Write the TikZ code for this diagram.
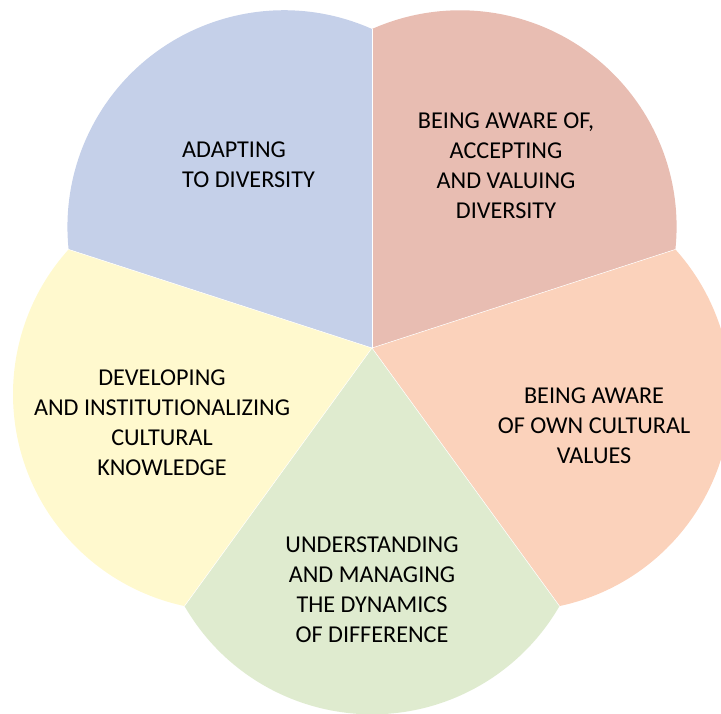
\documentclass[tikz,border=0pt]{standalone}
\usepackage{fontspec}
\setmainfont{Carlito}
\definecolor{pblue}{RGB}{197,208,233}
\definecolor{ppink}{RGB}{232,189,178}
\definecolor{psalmon}{RGB}{251,210,187}
\definecolor{pgreen}{RGB}{223,235,207}
\definecolor{pyellow}{RGB}{255,249,206}
\begin{document}
\begin{tikzpicture}[x=1pt,y=1pt,
  lbl/.style={align=center,inner sep=0pt,text=black,font=\fontsize{24.2}{30}\selectfont}]
\clip (0,0) rectangle (721,714);
\coordinate (C) at (372,366);
\def\R{319}
\def\r{216.5pt}
\foreach \t/\c in {126/pblue,54/ppink,-18/psalmon,-90/pgreen,198/pyellow}{
  \fill[\c] (C) -- ++(\t-36:\R) arc[start angle=\t-60,end angle=\t+60,radius=\r] -- cycle;
}
\foreach \t in {90,18,-54,-126,162}{
  \draw[white,line width=0.5pt] (C) -- ++(\t:\R);
}
\node[lbl,align=left,anchor=west] (adapt) at (182,549) {ADAPTING\\TO DIVERSITY};
\node[lbl] (aware) at (506,548) {BEING AWARE OF,\\ACCEPTING\\AND VALUING\\DIVERSITY};
\node[lbl] (own) at (594,288) {BEING AWARE\\OF OWN CULTURAL\\VALUES};
\node[lbl] (dev) at (162,291) {DEVELOPING\\AND INSTITUTIONALIZING\\CULTURAL\\KNOWLEDGE};
\node[lbl] (under) at (372,124.5) {UNDERSTANDING\\AND MANAGING\\THE DYNAMICS\\OF DIFFERENCE};
\end{tikzpicture}
\end{document}
